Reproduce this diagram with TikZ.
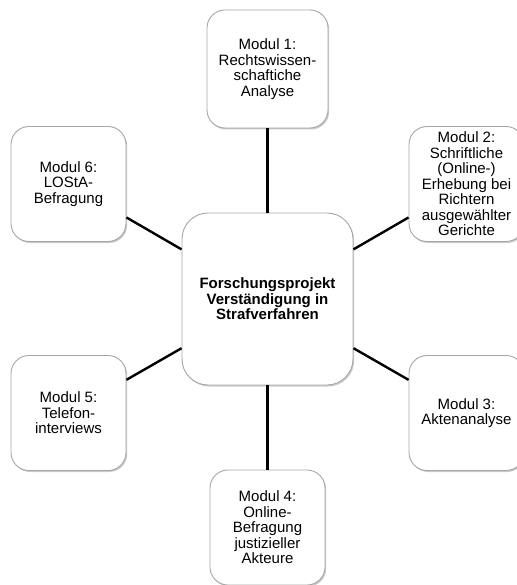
\documentclass[tikz,border=0pt]{standalone}
\usepackage{fontspec}
\setmainfont{Liberation Sans}
\usetikzlibrary{shadows}
\definecolor{boxline}{HTML}{A6A6A6}
\tikzset{
  modbox/.style={draw=boxline, line width=0.9pt, fill=white, rounded corners=18pt,
    minimum width=115pt, minimum height=115pt, align=center, inner sep=1pt,
    font=\fontsize{15}{15.5}\selectfont,
    drop shadow={shadow xshift=1.2pt, shadow yshift=-1.5pt, opacity=0.35, fill=black!60}},
  centerbox/.style={modbox, rounded corners=26pt, minimum width=171pt, minimum height=172pt,
    font=\fontsize{15}{15.5}\selectfont\bfseries},
  link/.style={line width=2.4pt, black}
}
\begin{document}
\begin{tikzpicture}[x=1pt, y=-1pt]
\useasboundingbox (0,0) rectangle (516,585);
\node[centerbox] (c) at (267.5,299) {Forschungsprojekt\\Verständigung in\\Strafverfahren};
\node[modbox, minimum width=121pt, minimum height=118pt] (m1) at (267.5,69) {Modul 1:\\Rechtswissen-\\schaftiche\\Analyse};
\node[modbox] (m2) at (466.5,184) {Modul 2:\\Schriftliche\\(Online-)\\Erhebung bei\\Richtern\\ausgewählter\\Gerichte};
\node[modbox] (m3) at (466.5,413) {Modul 3:\\Aktenanalyse};
\node[modbox] (m4) at (267.5,527.5) {Modul 4:\\Online-\\Befragung\\justizieller\\Akteure};
\node[modbox] (m5) at (68.5,413) {Modul 5:\\Telefon-\\interviews};
\node[modbox] (m6) at (68.5,184) {Modul 6:\\LOStA-\\Befragung};
\foreach \m in {m1,m2,m3,m4,m5,m6}
  \draw[link] (c) -- (\m);
\end{tikzpicture}
\end{document}
